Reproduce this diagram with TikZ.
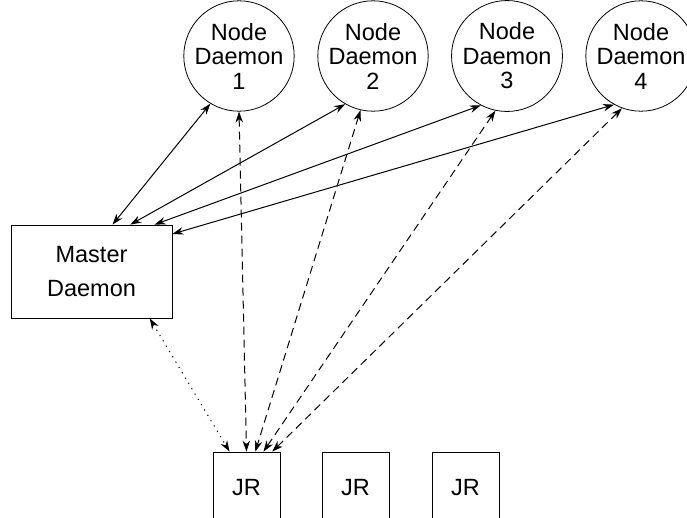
\documentclass[tikz,border=0pt]{standalone}
\usepackage{fontspec}
\setmainfont{Liberation Sans}
\usetikzlibrary{arrows.meta,calc}
\begin{document}
\begin{tikzpicture}[x=1pt,y=-1pt,
  lbl/.style={font=\fontsize{23.5}{24.5}\selectfont, align=center},
  nd/.style={circle, draw, line width=0.8pt, minimum size=102pt, inner sep=0pt, lbl},
  box/.style={rectangle, draw, line width=0.8pt, inner sep=0pt, lbl},
  solidarr/.style={line width=1pt, {Stealth[length=11pt,width=7.5pt]}-{Stealth[length=11pt,width=7.5pt]}},
  dasharr/.style={solidarr, dash pattern=on 8pt off 5pt},
  dotarr/.style={solidarr, dash pattern=on 1.2pt off 5pt}]
\useasboundingbox (0,0) rectangle (687,517);
\clip (0,0) rectangle (687,517);
\node[nd] (n1) at (239,56) {Node\\Daemon\\1};
\node[nd] (n2) at (373,56) {Node\\Daemon\\2};
\node[nd] (n3) at (507,56) {Node\\Daemon\\3};
\node[nd] (n4) at (641,56) {Node\\Daemon\\4};
\node[box, minimum width=161pt, minimum height=93pt,
  font=\fontsize{23.5}{34}\selectfont] (m) at (91.5,271.5) {Master\\Daemon};
\node[box, minimum width=67pt, minimum height=72pt] (j1) at (246.5,488) {JR};
\node[box, minimum width=67pt, minimum height=72pt] (j2) at (355.5,488) {JR};
\node[box, minimum width=67pt, minimum height=72pt] (j3) at (465.5,488) {JR};
% solid master <-> node daemons
\draw[solidarr] ($(m.north west)!0.63!(m.north east)$) -- (n1.239);
\draw[solidarr] ($(m.north west)!0.74!(m.north east)$) -- (n2.240);
\draw[solidarr] ($(m.north west)!0.89!(m.north east)$) -- (n3.242);
\draw[solidarr] ($(m.north east)!0.1!(m.south east)$) -- (n4.241);
% dotted master <-> JR
\draw[dotarr] ($(m.south west)!0.86!(m.south east)$) -- ($(j1.north west)!0.25!(j1.north east)$);
% dashed node daemons <-> JR
\draw[dasharr] (n1.270) -- ($(j1.north west)!0.5!(j1.north east)$);
\draw[dasharr] (n2.257) -- ($(j1.north west)!0.63!(j1.north east)$);
\draw[dasharr] (n3.258) -- ($(j1.north west)!0.75!(j1.north east)$);
\draw[dasharr] (n4.250) -- ($(j1.north west)!0.88!(j1.north east)$);
\end{tikzpicture}
\end{document}
